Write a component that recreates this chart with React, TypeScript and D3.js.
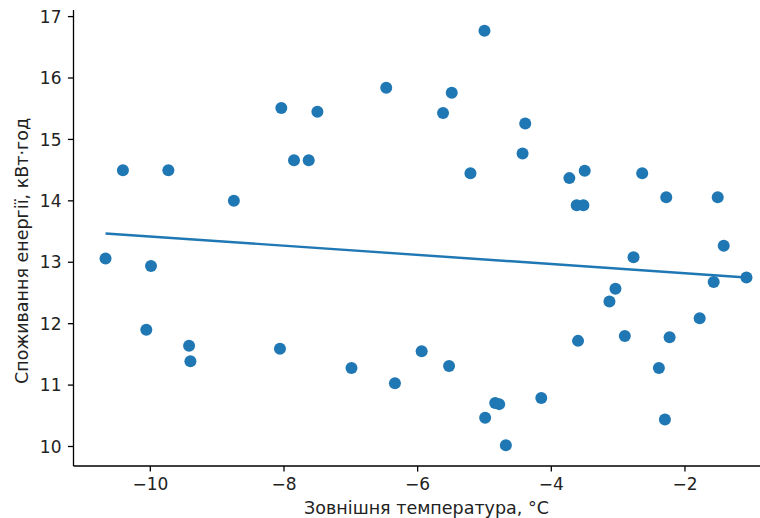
import React from "react";
import * as d3 from "d3";

const temps = [
  -10.67, -10.41, -9.73, -8.75, -9.99, -10.06, -9.42, -9.4, -8.04, -7.5,
  -7.85, -7.63, -6.47, -5.49, -5.62, -5.0, -5.21, -8.06, -6.99, -6.34,
  -5.94, -5.53, -4.84, -4.78, -4.99, -4.68, -4.39, -4.43, -3.73, -3.5,
  -3.62, -3.52, -2.64, -2.28, -1.51, -1.42, -2.77, -3.04, -3.13, -1.08,
  -1.57, -1.78, -3.6, -2.9, -2.23, -2.39, -4.15, -2.3,
];
const energy = [
  13.06, 14.5, 14.5, 14.0, 12.94, 11.9, 11.64, 11.39, 15.51, 15.45,
  14.66, 14.66, 15.84, 15.76, 15.43, 16.77, 14.45, 11.59, 11.28, 11.03,
  11.55, 11.31, 10.71, 10.69, 10.47, 10.02, 15.26, 14.77, 14.37, 14.49,
  13.93, 13.93, 14.45, 14.06, 14.06, 13.27, 13.08, 12.57, 12.36, 12.75,
  12.68, 12.09, 11.72, 11.8, 11.78, 11.28, 10.79, 10.44,
];
const xTicks = [-10, -8, -6, -4, -2];
const yTicks = [10, 11, 12, 13, 14, 15, 16, 17];
const xLabel = "Зовнішня температура, °C";
const yLabel = "Споживання енергії, кВт·год";

const W = 760;
const H = 518;
const L = 73.5;
const R = 778.5;
const T = 10;
const B = 466;
const COLOR = "#1f77b4";
const FONT = "DejaVu Sans, sans-serif";

function pad(ext: [number, number]): [number, number] {
  const d = (ext[1] - ext[0]) * 0.05;
  return [ext[0] - d, ext[1] + d];
}

export default function App() {
  const xExt = d3.extent(temps) as [number, number];
  const yExt = d3.extent(energy) as [number, number];
  const x = d3.scaleLinear().domain(pad(xExt)).range([L, R]);
  const y = d3.scaleLinear().domain(pad(yExt)).range([B, T]);

  const n = temps.length;
  const mx = d3.mean(temps) as number;
  const my = d3.mean(energy) as number;
  let sxy = 0;
  let sxx = 0;
  for (let i = 0; i < n; i++) {
    sxy += (temps[i] - mx) * (energy[i] - my);
    sxx += (temps[i] - mx) ** 2;
  }
  const slope = sxy / sxx;
  const intercept = my - slope * mx;
  const fitPts: [number, number][] = [xExt[0], xExt[1]].map((t) => [t, intercept + slope * t]);
  const line = d3
    .line<[number, number]>()
    .x((d) => x(d[0]))
    .y((d) => y(d[1]));

  const fmt = (v: number) => (v < 0 ? "\u2212" + Math.abs(v) : String(v));

  return (
    <svg
      width={W}
      height={H}
      style={{ position: "absolute", left: 0, top: 0, background: "#fff" }}
      fontFamily={FONT}
    >
      <rect x={0} y={0} width={W} height={H} fill="#fff" />
      {temps.map((t, i) => (
        <circle key={i} cx={x(t)} cy={y(energy[i])} r={6} fill={COLOR} />
      ))}
      <path d={line(fitPts) || ""} stroke={COLOR} strokeWidth={2.4} fill="none" />
      <line x1={L} x2={L} y1={T} y2={B} stroke="#000" strokeWidth={1.3} />
      <line x1={L} x2={W} y1={B} y2={B} stroke="#000" strokeWidth={1.3} />
      {xTicks.map((t) => (
        <g key={t} transform={`translate(${x(t)},${B})`}>
          <line y1={0} y2={5.6} stroke="#000" strokeWidth={1.3} />
          <text y={24} textAnchor="middle" fontSize={17} fill="#222">
            {fmt(t)}
          </text>
        </g>
      ))}
      {yTicks.map((t) => (
        <g key={t} transform={`translate(${L},${y(t)})`}>
          <line x1={0} x2={-5.6} stroke="#000" strokeWidth={1.3} />
          <text x={-12} dy="0.36em" textAnchor="end" fontSize={17} fill="#222">
            {fmt(t)}
          </text>
        </g>
      ))}
      <text x={426.5} y={514} textAnchor="middle" fontSize={17.5} fill="#222">
        {xLabel}
      </text>
      <text
        transform={`translate(28,251) rotate(-90)`}
        textAnchor="middle"
        fontSize={17.5}
        fill="#222"
      >
        {yLabel}
      </text>
    </svg>
  );
}
